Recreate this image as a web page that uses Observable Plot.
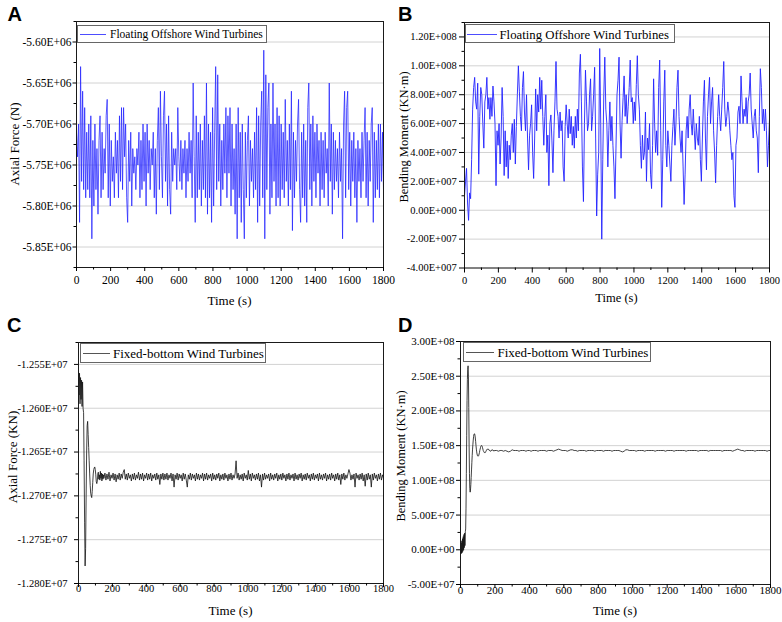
<!DOCTYPE html>
<html><head><meta charset="utf-8">
<script src="https://cdn.jsdelivr.net/npm/d3@7"></script>
<script src="https://cdn.jsdelivr.net/npm/@observablehq/plot@0.6"></script>
<style>
html,body{margin:0;padding:0;background:#fff;}
#root{position:relative;width:782px;height:622px;overflow:hidden;background:#fff;}
.pn{position:absolute;}
.pn svg{overflow:visible;}
.pn svg text{font-family:'Liberation Serif','Times New Roman',serif !important;}
#overlay{position:absolute;left:0;top:0;pointer-events:none;}
</style></head><body><div id="root"></div>
<script>
// ---------- tick definitions ----------
const xTicks = [0,200,400,600,800,1000,1200,1400,1600,1800];
const xLabels = ["0","200","400","600","800","1000","1200","1400","1600","1800"];
const xMinorTicks = [100,300,500,700,900,1100,1300,1500,1700];

// A: axial force, floating (units 1E+06 N)
const aTicks = [-5.60,-5.65,-5.70,-5.75,-5.80,-5.85];
const aLabels = ["-5.60E+06","-5.65E+06","-5.70E+06","-5.75E+06","-5.80E+06","-5.85E+06"];
const aMinor = [-5.575,-5.625,-5.675,-5.725,-5.775,-5.825,-5.875];
// B: bending moment, floating (units 1E+07 KN·m)
const bTicks = [-4,-2,0,2,4,6,8,10,12];
const bLabels = ["-4.00E+007","-2.00E+007","0.00E+000","2.00E+007","4.00E+007","6.00E+007","8.00E+007","1.00E+008","1.20E+008"];
const bMinor = [-3,-1,1,3,5,7,9,11,13];
// C: axial force, fixed (units 1E+07 KN)
const cTicks = [-1.255,-1.260,-1.265,-1.270,-1.275,-1.280];
const cLabels = ["-1.255E+07","-1.260E+07","-1.265E+07","-1.270E+07","-1.275E+07","-1.280E+07"];
const cMinor = [-1.2525,-1.2575,-1.2625,-1.2675,-1.2725,-1.2775];
// D: bending moment, fixed (units 1E+07 KN·m)
const dTicks = [-5,0,5,10,15,20,25,30];
const dLabels = ["-5.00E+07","0.00E+00","5.00E+07","1.00E+08","1.50E+08","2.00E+08","2.50E+08","3.00E+08"];
const dMinor = [-2.5,2.5,7.5,12.5,17.5,22.5,27.5];

// ---------- series (sampled every 6 s for A and B) ----------
const floatingStep = 6;
const floatingAxial = [
-5.71,-5.74,-5.70,-5.82,-5.63,-5.77,-5.66,-5.78,-5.68,-5.79,-5.71,-5.78,-5.70,-5.79,-5.69,-5.84,-5.72,-5.80,-5.70,-5.78,
-5.73,-5.81,-5.72,-5.69,-5.79,-5.71,-5.78,-5.73,-5.76,-5.69,-5.67,-5.79,-5.70,-5.80,-5.72,-5.77,-5.74,-5.79,-5.71,-5.76,
-5.72,-5.79,-5.69,-5.77,-5.68,-5.78,-5.68,-5.74,-5.70,-5.79,-5.82,-5.72,-5.77,-5.71,-5.80,-5.73,-5.76,-5.74,-5.78,-5.73,
-5.75,-5.71,-5.79,-5.72,-5.78,-5.70,-5.77,-5.71,-5.80,-5.70,-5.76,-5.72,-5.78,-5.73,-5.75,-5.71,-5.79,-5.73,-5.81,-5.72,
-5.68,-5.78,-5.66,-5.74,-5.79,-5.69,-5.66,-5.77,-5.70,-5.80,-5.69,-5.78,-5.81,-5.71,-5.77,-5.73,-5.75,-5.73,-5.78,-5.68,
-5.74,-5.77,-5.72,-5.78,-5.73,-5.76,-5.72,-5.79,-5.73,-5.77,-5.71,-5.76,-5.72,-5.79,-5.65,-5.74,-5.82,-5.69,-5.79,-5.71,
-5.78,-5.70,-5.80,-5.72,-5.78,-5.69,-5.79,-5.65,-5.81,-5.70,-5.79,-5.71,-5.82,-5.68,-5.80,-5.71,-5.63,-5.78,-5.64,-5.77,
-5.70,-5.80,-5.72,-5.78,-5.70,-5.76,-5.68,-5.79,-5.69,-5.76,-5.68,-5.80,-5.70,-5.78,-5.73,-5.81,-5.70,-5.84,-5.68,-5.79,
-5.71,-5.82,-5.70,-5.78,-5.84,-5.71,-5.79,-5.72,-5.69,-5.80,-5.72,-5.77,-5.73,-5.79,-5.71,-5.78,-5.68,-5.82,-5.69,-5.80,
-5.70,-5.66,-5.79,-5.61,-5.84,-5.64,-5.78,-5.68,-5.65,-5.81,-5.70,-5.79,-5.65,-5.77,-5.70,-5.80,-5.68,-5.79,-5.69,-5.80,
-5.70,-5.78,-5.71,-5.79,-5.67,-5.77,-5.72,-5.80,-5.70,-5.78,-5.66,-5.83,-5.71,-5.79,-5.72,-5.77,-5.70,-5.67,-5.78,-5.82,
-5.71,-5.79,-5.70,-5.80,-5.72,-5.82,-5.68,-5.65,-5.78,-5.70,-5.80,-5.69,-5.77,-5.71,-5.79,-5.70,-5.76,-5.72,-5.80,-5.71,
-5.78,-5.72,-5.79,-5.71,-5.76,-5.73,-5.80,-5.65,-5.77,-5.70,-5.81,-5.71,-5.78,-5.72,-5.77,-5.73,-5.79,-5.71,-5.77,-5.73,
-5.84,-5.70,-5.66,-5.79,-5.68,-5.66,-5.78,-5.71,-5.80,-5.72,-5.77,-5.71,-5.79,-5.73,-5.82,-5.72,-5.77,-5.73,-5.79,-5.71,
-5.77,-5.72,-5.68,-5.79,-5.71,-5.80,-5.72,-5.77,-5.70,-5.68,-5.82,-5.71,-5.79,-5.72,-5.78,-5.70,-5.79,-5.70,-5.77,-5.71,
-5.78];
const floatingMoment = [
1.0,2.0,2.9,0.5,-0.7,1.2,0.8,3.5,7.0,8.5,9.2,7.5,7.0,8.8,2.5,6.5,8.5,8.0,6.0,4.3,
7.5,8.0,9.2,7.0,7.8,6.3,7.8,6.5,8.6,7.5,6.0,1.7,5.5,4.5,6.0,3.2,5.0,8.5,6.5,2.4,
5.5,3.0,4.8,2.2,4.5,3.5,5.2,6.0,4.0,6.3,3.2,5.8,8.0,10.0,8.2,6.5,5.5,8.5,9.6,6.8,
5.5,8.0,5.0,2.8,5.2,6.0,7.3,4.0,2.2,5.0,8.4,5.5,8.0,6.8,9.2,7.0,9.0,6.5,4.5,6.5,
8.0,4.0,5.2,1.7,6.0,6.6,4.8,2.6,5.5,7.5,10.3,7.0,6.5,5.0,6.8,5.5,6.2,3.0,2.0,5.8,
7.3,6.0,5.0,7.0,5.3,6.5,4.5,5.8,4.3,6.5,5.0,7.0,5.5,9.5,10.8,7.5,3.0,0.6,6.0,9.7,
7.5,5.5,6.0,8.0,9.1,5.5,6.5,8.0,9.9,5.0,-0.4,2.5,4.0,11.2,6.0,-2.0,3.5,8.0,10.6,7.0,
6.0,3.0,5.5,7.5,4.8,6.5,4.5,3.0,0.8,4.3,8.0,9.0,10.6,6.0,3.6,6.2,7.8,9.3,6.5,8.0,
6.0,7.2,8.5,10.4,7.5,7.8,6.0,7.5,6.2,8.7,10.7,8.0,7.0,4.5,2.9,5.2,3.5,4.0,6.8,2.0,
5.0,4.2,6.0,2.5,1.5,4.5,9.1,6.0,4.0,5.5,3.8,8.5,10.4,5.5,0.2,3.5,7.5,9.7,4.5,3.0,
5.5,4.5,3.2,2.0,4.5,5.8,7.0,4.5,6.0,8.5,9.7,6.5,5.0,4.0,5.5,3.0,0.4,2.5,5.5,6.5,
5.0,7.0,8.0,6.0,5.2,7.0,5.5,4.2,6.0,5.0,4.5,6.5,3.5,2.0,5.0,7.5,9.0,5.0,2.8,6.5,
8.0,9.2,6.0,7.5,8.5,5.5,4.0,1.9,4.5,6.5,8.0,6.5,5.5,7.0,8.5,10.3,7.0,5.8,6.5,7.5,
6.8,5.5,4.5,3.5,4.0,1.0,0.2,4.5,5.0,6.8,7.2,6.0,9.3,7.5,6.0,7.0,6.5,7.8,6.0,7.5,
8.0,9.5,7.0,6.0,5.0,6.5,7.0,5.5,5.0,2.6,6.5,9.8,8.5,6.0,7.0,5.5,7.0,5.5,3.0,4.5,
6.3];

// C: start every 3 s (0–147 s), then every 6 s (150–1800 s)
const fixedAxialStartStep = 3;
const fixedAxialStart = [
-1.2556,-1.2585,-1.2560,-1.2595,-1.2565,-1.2590,-1.2568,-1.2598,-1.2570,-1.2600,
-1.2605,-1.2660,-1.2730,-1.2780,-1.2760,-1.2700,-1.2650,-1.2620,-1.2615,-1.2630,
-1.2645,-1.2660,-1.2675,-1.2688,-1.2697,-1.2700,-1.2702,-1.2695,-1.2685,-1.2675,
-1.2670,-1.2668,-1.2667,-1.2670,-1.2676,-1.2684,-1.2686,-1.2683,-1.2675,-1.2673,
-1.2681,-1.2676,-1.2682,-1.2672,-1.2680,-1.2674,-1.2683,-1.2675,-1.2681,-1.2676];
const fixedAxialRestStart = 150, fixedAxialRestStep = 6;
const fixedAxialRest = [
-1.2680,-1.2674,-1.2682,-1.2675,-1.2681,-1.2673,-1.2683,-1.2676,-1.2680,-1.2674,-1.2682,-1.2675,-1.2684,-1.2676,-1.2681,-1.2674,-1.2682,-1.2675,-1.2680,-1.2673,
-1.2670,-1.2681,-1.2675,-1.2682,-1.2674,-1.2680,-1.2676,-1.2683,-1.2675,-1.2681,-1.2674,-1.2682,-1.2676,-1.2680,-1.2673,-1.2682,-1.2675,-1.2681,-1.2674,-1.2683,
-1.2676,-1.2680,-1.2674,-1.2682,-1.2675,-1.2681,-1.2674,-1.2683,-1.2676,-1.2680,-1.2675,-1.2682,-1.2674,-1.2681,-1.2676,-1.2687,-1.2675,-1.2681,-1.2674,-1.2682,
-1.2675,-1.2681,-1.2674,-1.2682,-1.2676,-1.2680,-1.2674,-1.2683,-1.2675,-1.2690,-1.2676,-1.2681,-1.2674,-1.2682,-1.2675,-1.2680,-1.2676,-1.2683,-1.2674,-1.2681,
-1.2675,-1.2682,-1.2690,-1.2676,-1.2681,-1.2674,-1.2682,-1.2675,-1.2680,-1.2676,-1.2683,-1.2674,-1.2681,-1.2675,-1.2682,-1.2676,-1.2680,-1.2674,-1.2683,-1.2675,
-1.2681,-1.2674,-1.2682,-1.2676,-1.2680,-1.2675,-1.2683,-1.2674,-1.2681,-1.2676,-1.2682,-1.2675,-1.2680,-1.2674,-1.2683,-1.2676,-1.2681,-1.2675,-1.2682,-1.2674,
-1.2680,-1.2676,-1.2683,-1.2675,-1.2681,-1.2674,-1.2682,-1.2676,-1.2680,-1.2675,-1.2660,-1.2680,-1.2674,-1.2682,-1.2676,-1.2681,-1.2675,-1.2683,-1.2674,-1.2680,
-1.2676,-1.2682,-1.2671,-1.2681,-1.2675,-1.2683,-1.2674,-1.2680,-1.2676,-1.2682,-1.2675,-1.2681,-1.2674,-1.2683,-1.2676,-1.2690,-1.2675,-1.2682,-1.2674,-1.2681,
-1.2676,-1.2680,-1.2675,-1.2683,-1.2674,-1.2681,-1.2676,-1.2682,-1.2675,-1.2680,-1.2674,-1.2683,-1.2676,-1.2681,-1.2675,-1.2682,-1.2674,-1.2680,-1.2676,-1.2683,
-1.2675,-1.2681,-1.2674,-1.2682,-1.2676,-1.2680,-1.2675,-1.2683,-1.2674,-1.2681,-1.2676,-1.2682,-1.2675,-1.2680,-1.2674,-1.2683,-1.2676,-1.2681,-1.2675,-1.2682,
-1.2674,-1.2680,-1.2676,-1.2683,-1.2675,-1.2681,-1.2674,-1.2682,-1.2676,-1.2680,-1.2675,-1.2683,-1.2674,-1.2681,-1.2676,-1.2682,-1.2675,-1.2680,-1.2674,-1.2683,
-1.2676,-1.2681,-1.2675,-1.2682,-1.2674,-1.2680,-1.2676,-1.2683,-1.2675,-1.2681,-1.2674,-1.2682,-1.2676,-1.2687,-1.2675,-1.2681,-1.2674,-1.2682,-1.2676,-1.2680,
-1.2675,-1.2670,-1.2674,-1.2682,-1.2676,-1.2681,-1.2675,-1.2690,-1.2674,-1.2680,-1.2676,-1.2682,-1.2675,-1.2681,-1.2674,-1.2683,-1.2676,-1.2689,-1.2675,-1.2682,
-1.2674,-1.2681,-1.2676,-1.2690,-1.2675,-1.2682,-1.2674,-1.2680,-1.2676,-1.2683,-1.2675,-1.2681,-1.2674,-1.2682,-1.2676,-1.2680];

// D: start every 2 s (0–198 s), then every 10 s (200–1800 s)
const fixedMomentStartStep = 2;
const fixedMomentStart = [
0.0,-0.6,1.0,-0.5,1.3,-0.4,1.6,-0.2,1.9,0.0,2.2,0.3,2.4,0.6,2.6,3.0,6.0,11.0,16.5,21.5,
24.5,26.0,26.5,25.0,20.5,15.0,11.0,8.8,8.3,8.6,9.4,10.4,11.5,12.6,13.6,14.5,15.2,15.8,16.3,16.6,
16.7,16.7,16.5,16.1,15.6,15.0,14.5,14.1,13.8,13.6,13.5,13.5,13.5,13.6,13.8,14.0,14.3,14.5,14.7,14.9,
15.0,15.0,15.0,14.9,14.7,14.5,14.3,14.2,14.1,14.0,14.0,14.0,14.0,14.1,14.2,14.3,14.4,14.4,14.5,14.5,
14.5,14.5,14.4,14.4,14.3,14.3,14.2,14.2,14.2,14.3,14.3,14.4,14.4,14.4,14.3,14.3,14.3,14.2,14.3,14.3];
const fixedMomentRestStart = 200, fixedMomentRestStep = 10;
const fixedMomentRest = [
14.3,14.3,14.2,14.3,14.3,14.2,14.3,14.2,14.1,14.2,14.4,14.3,14.3,14.3,14.2,14.3,14.3,14.3,14.2,14.3,
14.3,14.2,14.3,14.3,14.3,14.2,14.3,14.3,14.3,14.3,14.2,14.3,14.3,14.3,14.2,14.3,14.4,14.5,14.4,14.3,
14.3,14.3,14.2,14.3,14.4,14.4,14.3,14.3,14.2,14.3,14.3,14.3,14.3,14.2,14.3,14.3,14.3,14.3,14.2,14.3,
14.3,14.3,14.3,14.2,14.3,14.3,14.3,14.3,14.2,14.3,14.3,14.3,14.3,14.2,14.1,14.2,14.4,14.4,14.3,14.3,
14.3,14.3,14.2,14.3,14.3,14.3,14.3,14.2,14.3,14.3,14.3,14.3,14.3,14.2,14.3,14.3,14.3,14.3,14.3,14.2,
14.3,14.3,14.3,14.3,14.2,14.3,14.3,14.3,14.3,14.3,14.3,14.2,14.3,14.3,14.3,14.3,14.3,14.3,14.2,14.3,
14.3,14.3,14.3,14.3,14.2,14.3,14.3,14.3,14.3,14.3,14.3,14.3,14.2,14.3,14.3,14.3,14.3,14.3,14.2,14.3,
14.4,14.5,14.4,14.3,14.3,14.2,14.3,14.3,14.3,14.3,14.3,14.2,14.3,14.3,14.3,14.3,14.3,14.3,14.2,14.3,
14.3];

// ---------- tables ----------
const tableA = floatingAxial.map((v, i) => ({t: i * floatingStep, v}));
const tableB = floatingMoment.map((v, i) => ({t: i * floatingStep, v}));
const tableC = [
  ...fixedAxialStart.map((v, i) => ({t: i * fixedAxialStartStep, v})),
  ...fixedAxialRest.map((v, i) => ({t: fixedAxialRestStart + i * fixedAxialRestStep, v}))];
const tableD = [
  ...fixedMomentStart.map((v, i) => ({t: i * fixedMomentStartStep, v})),
  ...fixedMomentRest.map((v, i) => ({t: fixedMomentRestStart + i * fixedMomentRestStep, v}))];

const serif = "'Liberation Serif','Times New Roman',serif";
const sans = "'Liberation Sans',Arial,sans-serif";

function panel(o) {
  const svg = Plot.plot({
    width: o.w, height: o.h,
    marginLeft: o.ml, marginRight: o.mr, marginTop: o.mt, marginBottom: o.mb,
    style: {fontFamily: serif, background: "transparent", color: "#000", overflow: "visible"},
    x: {domain: [0, 1800]},
    y: {domain: o.yDomain},
    marks: [
      Plot.ruleY(o.yTicks, {stroke: "#d2d2d2", strokeWidth: 1}),
      Plot.line(o.data, {x: "t", y: "v", stroke: o.color, strokeWidth: o.sw, clip: true}),
      Plot.frame({stroke: "#1a1a1a", strokeWidth: 1}),
      Plot.axisX({ticks: xTicks, tickSize: o.xts, tickPadding: o.xpad, fontSize: o.fs, fontFamily: serif,
        tickFormat: d => xLabels[xTicks.indexOf(d)], label: null}),
      Plot.axisX({ticks: xMinorTicks, tickSize: 2.5, tickFormat: () => "", label: null}),
      Plot.axisY({ticks: o.yTicks, tickSize: o.yts, tickPadding: o.ypad, fontSize: o.fs, fontFamily: serif,
        tickFormat: d => o.yLabels[o.yTicks.indexOf(d)], label: null}),
      Plot.axisY({ticks: o.yMinor, tickSize: 2.5, tickFormat: () => "", label: null})
    ]
  });
  svg.querySelectorAll("g, text").forEach(n => {
    if (n.hasAttribute("font-family")) n.setAttribute("font-family", serif);
  });
  svg.querySelectorAll("text").forEach(t => t.style.fontFamily = serif);
  return svg;
}

const root = document.getElementById("root");
function place(node, left, top) {
  const div = document.createElement("div");
  div.className = "pn";
  div.style.left = left + "px"; div.style.top = top + "px";
  div.appendChild(node); root.appendChild(div); return div;
}

place(panel({w: 391, h: 305, ml: 76, mr: 8, mt: 21, mb: 38, yDomain: [-5.875, -5.575],
  yTicks: aTicks, yLabels: aLabels, yMinor: aMinor, data: tableA, color: "#2323ff", sw: 0.75,
  fs: 11.5, xts: 4, xpad: 4, yts: 3.5, ypad: 1.5}), 0, 0);
place(panel({w: 391, h: 305, ml: 73, mr: 13, mt: 22, mb: 37.5, yDomain: [-4, 13],
  yTicks: bTicks, yLabels: bLabels, yMinor: bMinor, data: tableB, color: "#2323ff", sw: 0.9,
  fs: 10.5, xts: 5, xpad: 3.5, yts: 5, ypad: 2.7}), 391, 0);
place(panel({w: 391, h: 312, ml: 78, mr: 8, mt: 32, mb: 39, yDomain: [-1.2800, -1.2525],
  yTicks: cTicks, yLabels: cLabels, yMinor: cMinor, data: tableC, color: "#111", sw: 0.8,
  fs: 10.5, xts: 4, xpad: -2.5, yts: 4, ypad: 7}), 0, 310);
place(panel({w: 391, h: 312, ml: 69, mr: 12, mt: 31, mb: 38, yDomain: [-5, 30],
  yTicks: dTicks, yLabels: dLabels, yMinor: dMinor, data: tableD, color: "#111", sw: 0.8,
  fs: 11, xts: 4, xpad: -2.5, yts: 4, ypad: 2}), 391, 310);

// ---------- overlay: panel letters, axis titles, legends ----------
const NS = "http://www.w3.org/2000/svg";
const ov = document.createElementNS(NS, "svg");
ov.setAttribute("id", "overlay"); ov.setAttribute("width", 782); ov.setAttribute("height", 622);
root.appendChild(ov);
function el(tag, attrs, text) {
  const e = document.createElementNS(NS, tag);
  for (const k in attrs) e.setAttribute(k, attrs[k]);
  if (text != null) e.textContent = text;
  ov.appendChild(e); return e;
}
const letters = [["A", 7.5, 21], ["B", 398, 21], ["C", 7, 332], ["D", 398, 332]];
letters.forEach(([s, x, y]) => el("text", {x, y, "font-family": sans, "font-weight": "bold", "font-size": 20, fill: "#000"}, s));

const xTitles = [[229.5, 305, 13], [616.5, 302, 12.5], [230.5, 615, 13], [615, 615, 13]];
xTitles.forEach(([x, y, fs]) => el("text", {x, y, "text-anchor": "middle", "font-family": serif, "font-size": fs, fill: "#000"}, "Time (s)"));

const yTitles = [["Axial Force (N)", 14, 144, 13], ["Bending Moment (KN·m)", 404, 137, 12.5],
  ["Axial Force (KN)", 12.5, 457, 13], ["Bending Moment (KN·m)", 401, 456, 12.5]];
yTitles.forEach(([s, x, y, fs]) => el("text", {x: 0, y: 0, transform: `translate(${x},${y}) rotate(-90)`,
  "text-anchor": "middle", "dominant-baseline": "central", "font-family": serif, "font-size": fs, fill: "#000"}, s));

const legends = [
  {label: "Floating Offshore Wind Turbines", x: 77.5, y: 25.5, w: 189, h: 17, lx1: 80, lx2: 106, tx: 110, fs: 11.5, color: "#4d4dff"},
  {label: "Floating Offshore Wind Turbines", x: 465.5, y: 24.5, w: 209, h: 18, lx1: 467, lx2: 497, tx: 499.5, fs: 12.75, color: "#4d4dff"},
  {label: "Fixed-bottom Wind Turbines", x: 80.5, y: 343.5, w: 185, h: 19, lx1: 83, lx2: 110, tx: 113, fs: 13, color: "#555"},
  {label: "Fixed-bottom Wind Turbines", x: 463.5, y: 342.5, w: 187, h: 19, lx1: 466, lx2: 494, tx: 497.5, fs: 13, color: "#555"}];
legends.forEach(L => {
  el("rect", {x: L.x, y: L.y, width: L.w, height: L.h, fill: "#fff", stroke: "#666", "stroke-width": 1});
  const cy = Math.round(L.y + L.h / 2) + 0.5;
  el("line", {x1: L.lx1, x2: L.lx2, y1: cy, y2: cy, stroke: L.color, "stroke-width": 1});
  el("text", {x: L.tx, y: cy + L.fs * 0.34, "font-family": serif, "font-size": L.fs, fill: "#000"}, L.label);
});
</script></body></html>
